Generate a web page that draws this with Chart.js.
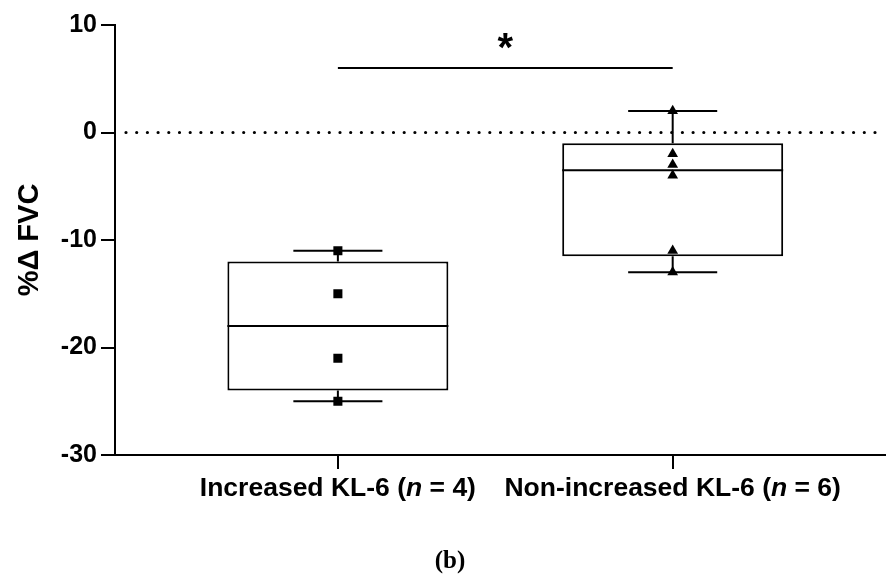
<!DOCTYPE html>
<html><head><meta charset="utf-8">
<script src="https://cdn.jsdelivr.net/npm/chart.js@4/dist/chart.umd.min.js"></script>
<style>html,body{margin:0;padding:0;background:#fff}#wrap{width:886px;height:578px}</style>
</head><body><div id="wrap"><canvas id="c" width="886" height="578"></canvas></div>
<script>
// ---- data ----
const groupLabels = ['Increased KL-6', 'Non-increased KL-6'];
const groupN = [4, 6];
const groupX = [1, 2];
const increasedKL6 = [-11, -15, -21, -25];
const nonIncreasedKL6 = [2, -2, -3, -4, -11, -13];
const boxQ1 = [-24, -11.5];
const boxMedian = [-18, -3.5];
const boxQ3 = [-12, -1];
const whiskerLow = [-25, -13];
const whiskerHigh = [-11, 2];
const yTicks = [-30, -20, -10, 0, 10];
const sigPair = [1, 2];
const sigLevel = [6];
const sigLabel = ['*'];
const refLine = [0];
const panelLabel = ['(b)'];

Chart.defaults.font.family = '"Liberation Sans", Arial, sans-serif';
Chart.defaults.color = '#000';

const CAP_HALF = 0.133; // whisker cap half width in x units

const boxPlugin = {
  id: 'boxExtras',
  beforeDatasetsDraw(chart) {
    const ctx = chart.ctx, xs = chart.scales.x, ys = chart.scales.y, ca = chart.chartArea;
    ctx.save();
    // extend x axis line to the canvas edge
    ctx.strokeStyle = '#000';
    ctx.lineWidth = 2;
    ctx.beginPath();
    ctx.moveTo(ca.right - 1, ca.bottom);
    ctx.lineTo(chart.width, ca.bottom);
    ctx.stroke();
    // dotted reference line
    ctx.lineWidth = 3.2;
    ctx.lineCap = 'round';
    ctx.setLineDash([0, 10.7]);
    refLine.forEach(v => {
      const y = ys.getPixelForValue(v);
      ctx.beginPath();
      ctx.moveTo(ca.left + 11, y);
      ctx.lineTo(ca.right, y);
      ctx.stroke();
    });
    ctx.setLineDash([]);
    ctx.lineCap = 'butt';
    ctx.lineWidth = 2;
    // whiskers
    groupX.forEach((gx, i) => {
      const x = xs.getPixelForValue(gx);
      const h = xs.getPixelForValue(gx + CAP_HALF) - x;
      const yq1 = ys.getPixelForValue(boxQ1[i]), yq3 = ys.getPixelForValue(boxQ3[i]);
      const ylo = ys.getPixelForValue(whiskerLow[i]), yhi = ys.getPixelForValue(whiskerHigh[i]);
      ctx.beginPath();
      ctx.moveTo(x, yq3); ctx.lineTo(x, yhi);
      ctx.moveTo(x - h, yhi); ctx.lineTo(x + h, yhi);
      ctx.moveTo(x, yq1); ctx.lineTo(x, ylo);
      ctx.moveTo(x - h, ylo); ctx.lineTo(x + h, ylo);
      ctx.stroke();
    });
    // significance bar
    const sy = ys.getPixelForValue(sigLevel[0]);
    const sx1 = xs.getPixelForValue(sigPair[0]), sx2 = xs.getPixelForValue(sigPair[1]);
    ctx.beginPath();
    ctx.moveTo(sx1, sy); ctx.lineTo(sx2, sy);
    ctx.stroke();
    ctx.font = 'bold 40px "Liberation Sans"';
    ctx.textAlign = 'center';
    ctx.textBaseline = 'alphabetic';
    const m = ctx.measureText(sigLabel[0]);
    const targetY = sy - 27;
    const yy = targetY - (m.actualBoundingBoxDescent - m.actualBoundingBoxAscent) / 2;
    ctx.fillStyle = '#000';
    ctx.fillText(sigLabel[0], (sx1 + sx2) / 2, yy);
    ctx.restore();
  },
  afterDatasetDraw(chart, args) {
    if (args.index !== 2) return;
    const ctx = chart.ctx, ys = chart.scales.y;
    ctx.save();
    ctx.strokeStyle = '#000';
    ctx.lineWidth = 2;
    args.meta.data.forEach((el, i) => {
      const y = ys.getPixelForValue(boxMedian[i]);
      ctx.beginPath();
      ctx.moveTo(el.x - el.width / 2, y);
      ctx.lineTo(el.x + el.width / 2, y);
      ctx.stroke();
    });
    ctx.restore();
  },
  afterDraw(chart) {
    const ctx = chart.ctx, xs = chart.scales.x;
    ctx.save();
    ctx.fillStyle = '#000';
    ctx.textBaseline = 'alphabetic';
    ctx.textAlign = 'left';
    const base = chart.chartArea.bottom + 41;
    groupX.forEach((gx, i) => {
      const segs = [
        { t: groupLabels[i] + ' (', f: 'bold 26.5px "Liberation Sans"' },
        { t: 'n', f: 'italic bold 26.5px "Liberation Sans"' },
        { t: ' = ' + groupN[i] + ')', f: 'bold 26.5px "Liberation Sans"' }
      ];
      let w = 0;
      segs.forEach(s => { ctx.font = s.f; s.w = ctx.measureText(s.t).width; w += s.w; });
      let x = xs.getPixelForValue(gx) - w / 2;
      segs.forEach(s => { ctx.font = s.f; ctx.fillText(s.t, x, base); x += s.w; });
    });
    ctx.font = 'bold 25px "Liberation Serif"';
    ctx.textAlign = 'center';
    ctx.textBaseline = 'middle';
    ctx.fillText(panelLabel[0], 450, 562);
    ctx.restore();
  }
};

new Chart(document.getElementById('c'), {
  type: 'bar',
  data: {
    datasets: [
      {
        type: 'scatter',
        label: 'Increased KL-6',
        data: increasedKL6.map(v => ({ x: groupX[0], y: v })),
        pointStyle: 'rect',
        pointRadius: 6.4,
        backgroundColor: '#000',
        borderWidth: 0
      },
      {
        type: 'scatter',
        label: 'Non-increased KL-6',
        data: nonIncreasedKL6.map(v => ({ x: groupX[1], y: v })),
        pointStyle: 'triangle',
        pointRadius: 6.2,
        backgroundColor: '#000',
        borderWidth: 0
      },
      {
        type: 'bar',
        label: 'IQR',
        data: groupX.map((gx, i) => ({ x: gx, y: [boxQ1[i], boxQ3[i]] })),
        backgroundColor: '#fff',
        borderColor: '#000',
        borderWidth: 2,
        borderSkipped: false,
        categoryPercentage: 1,
        barPercentage: 0.66
      }
    ]
  },
  options: {
    responsive: false,
    devicePixelRatio: 1,
    animation: false,
    layout: { padding: { top: 25, right: 0, bottom: 0, left: 0 } },
    plugins: { legend: { display: false }, tooltip: { enabled: false } },
    scales: {
      x: {
        type: 'linear',
        offset: false,
        min: 0.3343,
        max: 2.618,
        afterBuildTicks: s => { s.ticks = groupX.map(v => ({ value: v })); },
        afterFit: s => { s.height = 123; },
        ticks: { display: false },
        grid: { display: true, offset: false, drawOnChartArea: false, drawTicks: true, tickLength: 14, color: '#000', lineWidth: 2 },
        border: { display: true, color: '#000', width: 2 }
      },
      y: {
        type: 'linear',
        min: -30,
        max: 10,
        afterBuildTicks: s => { s.ticks = yTicks.map(v => ({ value: v })); },
        afterFit: s => { s.width = 115; },
        ticks: { font: { size: 25, weight: 'bold' }, color: '#000', padding: 4 },
        grid: { display: true, drawOnChartArea: false, drawTicks: true, tickLength: 14, color: '#000', lineWidth: 2 },
        border: { display: true, color: '#000', width: 2 },
        title: { display: true, text: '%Δ FVC', font: { size: 29, weight: 'bold' }, color: '#000', padding: { top: 13, bottom: 0 } }
      }
    }
  },
  plugins: [boxPlugin]
});
</script>
</body></html>
